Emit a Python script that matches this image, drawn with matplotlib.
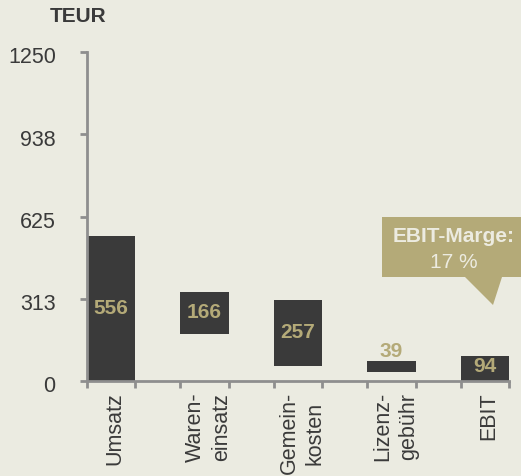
import matplotlib
matplotlib.use('Agg')
import matplotlib.pyplot as plt
import matplotlib.transforms as mtransforms
from matplotlib.patches import Polygon
from matplotlib.ticker import FixedLocator
import numpy as np

# data (TEUR)
categories = ['Umsatz', 'Waren-\neinsatz', 'Gemein-\nkosten', 'Lizenz-\ngebühr', 'EBIT']
values = [556, 166, 257, 39, 94]
bar_bottom = [0, 180, 58, 34, 0]
bar_top = [551, 338, 308, 76, 95]
yticks = [0, 313, 625, 938, 1250]
margin_text = ['EBIT-Marge:', '17 %']

bg = '#EBEBE1'
dark = '#3A3A3A'
tan = '#B4AA78'
grey = '#8E8E8E'

plt.rcParams['font.family'] = ['Liberation Sans', 'DejaVu Sans']

W, H = 521, 476
fig = plt.figure(figsize=(W/100, H/100), dpi=100, facecolor=bg)
ax = fig.add_axes([87/W, 1-381/H, (509-87)/W, (381-52)/H])
ax.set_facecolor(bg)

x = np.arange(len(categories))
w = 0.515
heights = [t - b for t, b in zip(bar_top, bar_bottom)]
ax.bar(x, heights, bottom=bar_bottom, width=w, color=dark, zorder=2)

ax.set_xlim(-w/2, x[-1] + w/2)
ax.set_ylim(0, 1250)

# value labels
for i, v in enumerate(values):
    if i == 3:
        ax.text(x[i], bar_top[i], str(v), ha='center', va='bottom', color=tan,
                fontsize=15, fontweight='bold', zorder=3)
    elif i == 4:
        ax.text(x[i], bar_top[i] - 3, str(v), ha='center', va='top', color=tan,
                fontsize=15, fontweight='bold', zorder=3)
    else:
        ax.text(x[i], (bar_bottom[i] + bar_top[i])/2, str(v), ha='center', va='center',
                color=tan, fontsize=15, fontweight='bold', zorder=3)

# axes styling
for s in ['top', 'right']:
    ax.spines[s].set_visible(False)
for s in ['left', 'bottom']:
    ax.spines[s].set_color(grey)
    ax.spines[s].set_linewidth(2)

ax.set_yticks(yticks)
ax.set_yticklabels([str(t) for t in yticks])
ax.tick_params(axis='y', length=5, width=2, color=grey, labelsize=15.5,
               labelcolor=dark, pad=17.5)
yshift = mtransforms.ScaledTranslation(0, -2.5/72, fig.dpi_scale_trans)
for lbl in ax.get_yticklabels():
    lbl.set_transform(lbl.get_transform() + yshift)

ax.set_xticks(x)
ax.set_xticklabels(categories, rotation=90, va='top', ha='center',
                   multialignment='center', linespacing=1.3)
ax.tick_params(axis='x', which='major', length=0, labelsize=15.5,
               labelcolor=dark, pad=8)
xshift = mtransforms.ScaledTranslation(3/72, 0, fig.dpi_scale_trans)
for lbl in ax.get_xticklabels():
    lbl.set_transform(lbl.get_transform() + xshift)
edges = np.concatenate([x - w/2, x + w/2])
ax.xaxis.set_minor_locator(FixedLocator(edges))
ax.tick_params(axis='x', which='minor', length=5, width=2, color=grey)

fig.text(78/W, 1-16/H, 'TEUR', ha='center', va='center', fontsize=15,
         fontweight='bold', color=dark)

# callout
pts = [(382, 217), (525, 217), (525, 277), (502, 277), (493, 305), (465, 277), (382, 277)]
fig.patches.append(Polygon([(px/W, 1-py/H) for px, py in pts], closed=True,
                           facecolor=tan, edgecolor='none',
                           transform=fig.transFigure, figure=fig))
fig.text(454/W, 1-237/H, margin_text[0], ha='center', va='center', fontsize=15,
         fontweight='bold', color='#ECEBE0')
fig.text(454/W, 1-263/H, margin_text[1], ha='center', va='center', fontsize=15,
         color='#ECEBE0')

fig.savefig('out.png', dpi=100, facecolor=bg)
